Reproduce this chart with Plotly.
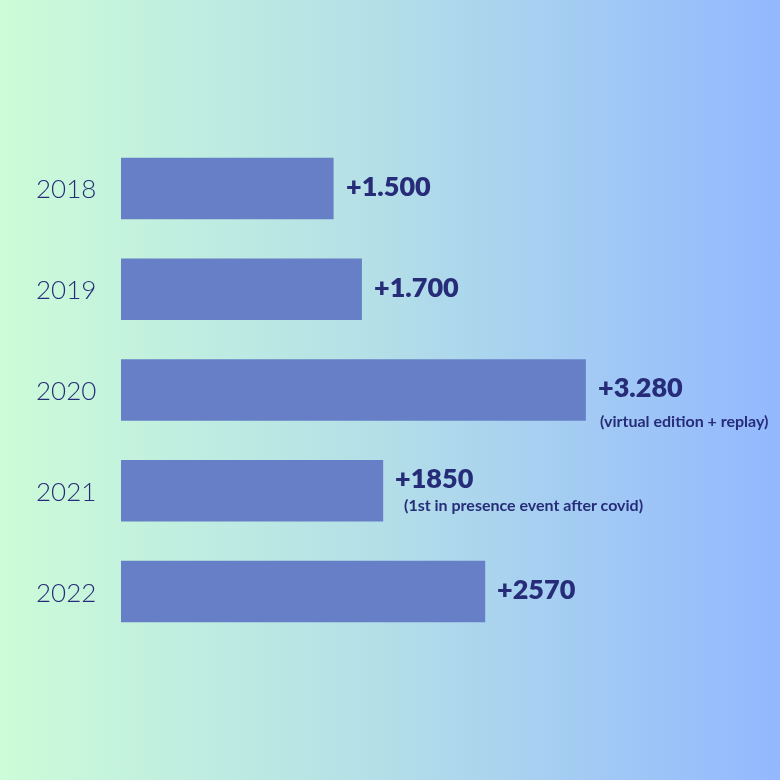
import base64
import plotly.graph_objects as go

# data
years = ["2018", "2019", "2020", "2021", "2022"]
participants = [1500, 1700, 3280, 1850, 2570]
value_labels = ["+1.500", "+1.700", "+3.280", "+1850", "+2570"]
notes = ["", "", "(virtual edition + replay)", "(1st in presence event after covid)", ""]

BAR = "#667fc6"
INK = "#262c78"
FONT = "Lato, 'Open Sans', sans-serif"

# horizontal gradient background, as an inline svg
svg = (
    '<svg xmlns="http://www.w3.org/2000/svg" width="780" height="780" preserveAspectRatio="none">'
    '<defs><linearGradient id="g" x1="0" y1="0" x2="1" y2="0">'
    '<stop offset="0" stop-color="#ccfcd8"/>'
    '<stop offset="0.5" stop-color="#b3dee8"/>'
    '<stop offset="1" stop-color="#93b8ff"/>'
    '</linearGradient></defs>'
    '<rect width="780" height="780" fill="url(#g)"/></svg>'
)
bg = "data:image/svg+xml;base64," + base64.b64encode(svg.encode()).decode()

fig = go.Figure(go.Bar(
    x=participants, y=years, orientation="h",
    marker=dict(color=BAR, line_width=0),
    width=0.61, hoverinfo="skip",
))

# annotations take the category index (the year strings would be read as numbers)
for i, (yr, v, lab, note) in enumerate(zip(years, participants, value_labels, notes)):
    fig.add_annotation(x=66 / 780, xref="paper", y=i, text=yr, showarrow=False,
                       xanchor="center",
                       font=dict(family=FONT, size=26, color=INK, weight=300))
    # value label, the ones with a note sit a bit higher
    main_shift = 3
    if note:
        main_shift = 4 if yr == "2020" else 13
    fig.add_annotation(x=v, y=i, text=lab, showarrow=False,
                       xanchor="left", xshift=10, yshift=main_shift,
                       font=dict(family=FONT, size=27, color=INK, weight=800))
    if note:
        fig.add_annotation(x=v, y=i, text=note, showarrow=False,
                           xanchor="left", xshift=12 if yr == "2020" else 19,
                           yshift=-30 if yr == "2020" else -14,
                           font=dict(family=FONT, size=16, color=INK, weight=700))

fig.update_layout(
    width=780, height=780,
    margin=dict(l=0, r=0, t=0, b=0),
    paper_bgcolor="rgba(0,0,0,0)", plot_bgcolor="rgba(0,0,0,0)",
    showlegend=False,
    images=[dict(source=bg, xref="paper", yref="paper", x=0, y=1,
                 sizex=1, sizey=1, sizing="stretch", layer="below",
                 xanchor="left", yanchor="top")],
)
fig.update_xaxes(domain=[121 / 780, 1], range=[0, 4650], visible=False)
fig.update_yaxes(type="category", categoryorder="array", categoryarray=years,
                 domain=[138 / 780, 642 / 780], range=[4.5, -0.5],
                 visible=False)

fig.write_html(
    "out.html",
    config={"displayModeBar": False},
    post_script=(
        "document.body.style.margin='0';"
        "var gd=document.getElementById('{plot_id}');"
        "gd.style.position='fixed';gd.style.top='0';gd.style.left='0';"
    ),
)
